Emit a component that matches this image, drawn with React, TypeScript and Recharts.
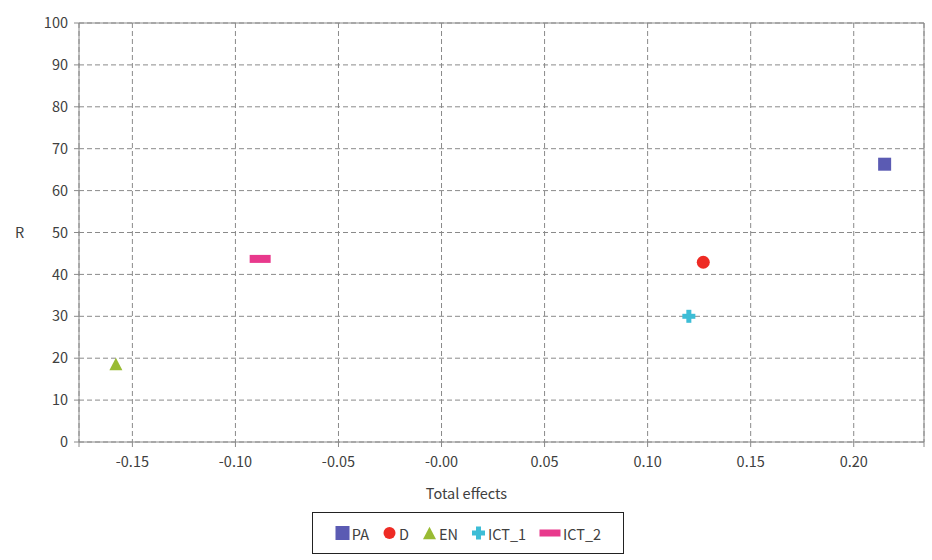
import React from 'react';
import {
  ScatterChart,
  Scatter,
  XAxis,
  YAxis,
  CartesianGrid,
  Legend,
  ReferenceLine,
} from 'recharts';

// Series: total effect (x) and R (y) for each factor
const seriesNames = ['PA', 'D', 'EN', 'ICT_1', 'ICT_2'];
const totalEffects = [0.215, 0.127, -0.158, 0.12, -0.088];
const rValues = [66.3, 42.9, 18.6, 30.0, 43.7];
const seriesColors = ['#5B5BB3', '#EE2B24', '#99BB33', '#3DBDD6', '#E8398C'];
const markerKinds = ['square', 'circle', 'triangle', 'cross', 'bar'];

// Axis ticks
const xMin = -0.1759;
const xMax = 0.2341;
const xTickValues = [-0.15, -0.1, -0.05, 0, 0.05, 0.1, 0.15, 0.2];
const yTickValues = [0, 10, 20, 30, 40, 50, 60, 70, 80, 90, 100];

const AXIS_COLOR = '#8a8a8a';
const TEXT_COLOR = '#404040';
const FONT = '"Noto Sans CJK KR", "Noto Sans", sans-serif';
const FONT_SIZE = 14.5;

const formatX = (v: number) => {
  if (v === xMin || v === xMax) return '';
  if (v === 0) return '-0.00';
  return v.toFixed(2);
};

function Marker({ kind, cx, cy, color, legend }: { kind: string; cx: number; cy: number; color: string; legend?: boolean }) {
  switch (kind) {
    case 'square': {
      const s = legend ? 14 : 13;
      return <rect x={cx - s / 2} y={cy - s / 2} width={s} height={s} fill={color} />;
    }
    case 'circle':
      return <circle cx={cx} cy={cy} r={legend ? 6 : 6.5} fill={color} />;
    case 'triangle': {
      const w = 13;
      const h = 12.5;
      return (
        <polygon
          points={`${cx},${cy - h / 2} ${cx + w / 2},${cy + h / 2} ${cx - w / 2},${cy + h / 2}`}
          fill={color}
        />
      );
    }
    case 'cross': {
      const s = 13;
      const t = 5;
      return (
        <g fill={color}>
          <rect x={cx - s / 2} y={cy - t / 2} width={s} height={t} />
          <rect x={cx - t / 2} y={cy - s / 2} width={t} height={s} />
        </g>
      );
    }
    case 'bar':
    default: {
      const w = 21;
      const h = legend ? 7 : 8;
      return <rect x={cx - w / 2} y={cy - h / 2} width={w} height={h} fill={color} />;
    }
  }
}

const seriesData = seriesNames.map((name, i) => [
  { x: totalEffects[i], y: rValues[i], name },
]);

function LegendBox() {
  return (
    <div
      style={{
        width: 310,
        height: 40,
        marginLeft: 312,
        border: '1px solid #222',
        display: 'flex',
        alignItems: 'center',
        justifyContent: 'center',
        gap: 13,
        fontFamily: FONT,
        fontSize: FONT_SIZE,
        color: TEXT_COLOR,
        boxSizing: 'content-box',
      }}
    >
      {seriesNames.map((name, i) => {
        const iconW = markerKinds[i] === 'bar' ? 22 : 15;
        return (
          <div key={name} style={{ display: 'flex', alignItems: 'center', gap: 2 }}>
            <svg width={iconW} height={16} style={{ display: 'block' }}>
              <Marker kind={markerKinds[i]} cx={iconW / 2} cy={8} color={seriesColors[i]} legend />
            </svg>
            <span>{name}</span>
          </div>
        );
      })}
    </div>
  );
}

export default function App() {
  return (
    <div style={{ position: 'absolute', left: 0, top: 0, fontFamily: FONT, background: '#fff' }}>
      <ScatterChart width={932} height={560} margin={{ top: 23, right: 8, bottom: 6, left: 0 }}>
        <CartesianGrid stroke={AXIS_COLOR} strokeDasharray="5 3" />
        <XAxis
          type="number"
          dataKey="x"
          domain={[xMin, xMax]}
          allowDataOverflow
          ticks={[xMin, ...xTickValues, xMax]}
          tickFormatter={formatX}
          interval={0}
          height={70}
          tickSize={5}
          tickMargin={10}
          axisLine={{ stroke: AXIS_COLOR }}
          tickLine={{ stroke: AXIS_COLOR }}
          tick={{ fill: TEXT_COLOR, fontSize: FONT_SIZE }}
          label={{
            value: 'Total effects',
            position: 'insideBottom',
            offset: 13,
            dx: -35,
            fill: TEXT_COLOR,
            fontSize: FONT_SIZE,
          }}
        />
        <YAxis
          type="number"
          dataKey="y"
          domain={[0, 100]}
          allowDataOverflow
          ticks={yTickValues}
          interval={0}
          width={79}
          tickSize={5}
          tickMargin={6}
          axisLine={{ stroke: AXIS_COLOR }}
          tickLine={{ stroke: AXIS_COLOR }}
          tick={{ fill: TEXT_COLOR, fontSize: FONT_SIZE }}
          label={{
            value: 'R',
            position: 'insideLeft',
            offset: 15,
            fill: TEXT_COLOR,
            fontSize: FONT_SIZE,
          }}
        />
        <ReferenceLine y={100} stroke={AXIS_COLOR} />
        <ReferenceLine x={xMax} stroke={AXIS_COLOR} />
        {seriesNames.map((name, i) => (
          <Scatter
            key={name}
            name={name}
            data={seriesData[i]}
            fill={seriesColors[i]}
            isAnimationActive={false}
            shape={(props: any) => (
              <Marker kind={markerKinds[i]} cx={props.cx} cy={props.cy} color={seriesColors[i]} />
            )}
          />
        ))}
        <Legend verticalAlign="bottom" align="left" content={() => <LegendBox />} />
      </ScatterChart>
    </div>
  );
}
